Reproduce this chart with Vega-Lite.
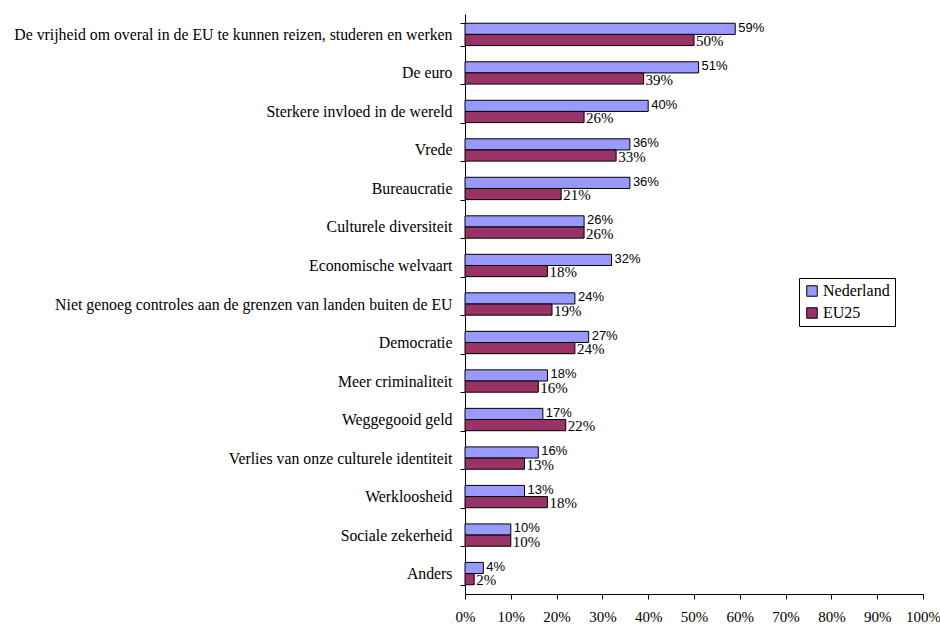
{
  "$schema": "https://vega.github.io/schema/vega-lite/v6.json",
  "width": 458,
  "height": 580,
  "autosize": {"type": "none"},
  "padding": {"left": 465, "top": 14, "right": 17, "bottom": 32},
  "background": "white",
  "config": {"view": {"stroke": null}, "font": "'Liberation Serif', 'Times New Roman', serif"},
  "data": {"values": [
    {"cat": "De vrijheid om overal in de EU te kunnen reizen, studeren en werken", "series": "Nederland", "v": 59},
    {"cat": "De vrijheid om overal in de EU te kunnen reizen, studeren en werken", "series": "EU25", "v": 50},
    {"cat": "De euro", "series": "Nederland", "v": 51},
    {"cat": "De euro", "series": "EU25", "v": 39},
    {"cat": "Sterkere invloed in de wereld", "series": "Nederland", "v": 40},
    {"cat": "Sterkere invloed in de wereld", "series": "EU25", "v": 26},
    {"cat": "Vrede", "series": "Nederland", "v": 36},
    {"cat": "Vrede", "series": "EU25", "v": 33},
    {"cat": "Bureaucratie", "series": "Nederland", "v": 36},
    {"cat": "Bureaucratie", "series": "EU25", "v": 21},
    {"cat": "Culturele diversiteit", "series": "Nederland", "v": 26},
    {"cat": "Culturele diversiteit", "series": "EU25", "v": 26},
    {"cat": "Economische welvaart", "series": "Nederland", "v": 32},
    {"cat": "Economische welvaart", "series": "EU25", "v": 18},
    {"cat": "Niet genoeg controles aan de grenzen van landen buiten de EU", "series": "Nederland", "v": 24},
    {"cat": "Niet genoeg controles aan de grenzen van landen buiten de EU", "series": "EU25", "v": 19},
    {"cat": "Democratie", "series": "Nederland", "v": 27},
    {"cat": "Democratie", "series": "EU25", "v": 24},
    {"cat": "Meer criminaliteit", "series": "Nederland", "v": 18},
    {"cat": "Meer criminaliteit", "series": "EU25", "v": 16},
    {"cat": "Weggegooid geld", "series": "Nederland", "v": 17},
    {"cat": "Weggegooid geld", "series": "EU25", "v": 22},
    {"cat": "Verlies van onze culturele identiteit", "series": "Nederland", "v": 16},
    {"cat": "Verlies van onze culturele identiteit", "series": "EU25", "v": 13},
    {"cat": "Werkloosheid", "series": "Nederland", "v": 13},
    {"cat": "Werkloosheid", "series": "EU25", "v": 18},
    {"cat": "Sociale zekerheid", "series": "Nederland", "v": 10},
    {"cat": "Sociale zekerheid", "series": "EU25", "v": 10},
    {"cat": "Anders", "series": "Nederland", "v": 4},
    {"cat": "Anders", "series": "EU25", "v": 2}
  ]},
  "transform": [{"calculate": "datum.v + '%'", "as": "lbl"}],
  "encoding": {
    "y": {
      "field": "cat", "type": "nominal", "sort": null, "title": null,
      "scale": {"paddingInner": 0.42, "paddingOuter": 0.24},
      "axis": {
        "domainColor": "black", "tickColor": "black", "tickBand": "extent", "tickSize": 5,
        "labelFontSize": 15.8, "labelColor": "black", "labelPadding": 8, "labelLimit": 600,
        "labelFont": "'Liberation Serif', 'Times New Roman', serif"
      }
    },
    "yOffset": {"field": "series", "type": "nominal", "sort": ["Nederland", "EU25"], "scale": {"domain": ["Nederland", "EU25"]}},
    "x": {
      "field": "v", "type": "quantitative", "title": null,
      "scale": {"domain": [0, 100], "nice": false},
      "axis": {
        "values": [0, 10, 20, 30, 40, 50, 60, 70, 80, 90, 100],
        "labelExpr": "datum.value + '%'", "grid": false,
        "domainColor": "black", "tickColor": "black", "tickSize": 5,
        "labelFontSize": 15, "labelColor": "black", "labelPadding": 10,
        "labelFont": "'Liberation Serif', 'Times New Roman', serif", "labelFlush": false
      }
    }
  },
  "layer": [
    {
      "mark": {"type": "bar", "stroke": "black", "strokeWidth": 1},
      "encoding": {
        "color": {
          "field": "series", "type": "nominal",
          "scale": {"domain": ["Nederland", "EU25"], "range": ["#9999FF", "#993366"]},
          "legend": {
            "title": null, "orient": "none", "legendX": 334, "legendY": 264,
            "strokeColor": "black", "padding": 5, "fillColor": "white",
            "symbolType": "square", "symbolSize": 110, "symbolStrokeColor": "black", "symbolStrokeWidth": 1,
            "labelFontSize": 16, "labelFont": "'Liberation Serif', 'Times New Roman', serif", "labelColor": "black",
            "labelOffset": 3, "rowPadding": 6, "symbolOpacity": 1
          }
        }
      }
    },
    {
      "transform": [{"filter": "datum.series === 'Nederland'"}],
      "mark": {"type": "text", "align": "left", "baseline": "middle", "dx": 3, "dy": -1, "font": "'Liberation Sans', Arial, sans-serif", "fontSize": 13, "color": "black"},
      "encoding": {"text": {"field": "lbl", "type": "nominal"}}
    },
    {
      "transform": [{"filter": "datum.series === 'EU25'"}],
      "mark": {"type": "text", "align": "left", "baseline": "middle", "dx": 2, "dy": 1, "font": "'Liberation Serif', 'Times New Roman', serif", "fontSize": 15, "color": "black"},
      "encoding": {"text": {"field": "lbl", "type": "nominal"}}
    }
  ]
}
